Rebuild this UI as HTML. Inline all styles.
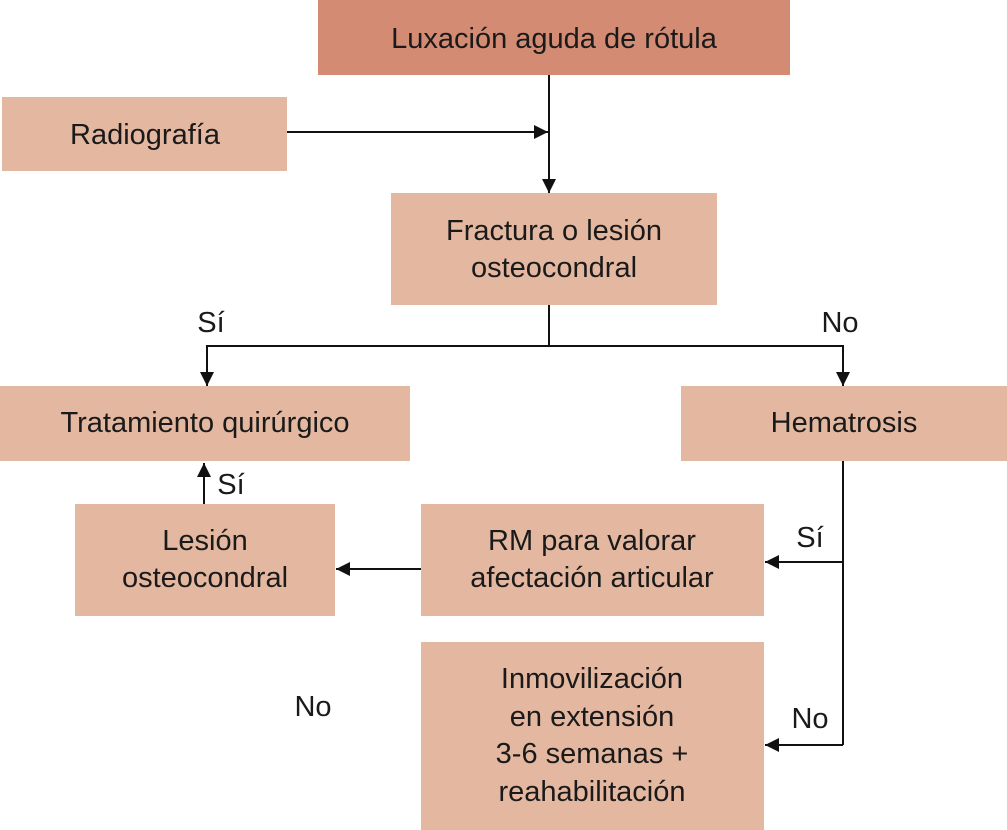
<!DOCTYPE html>
<html><head><meta charset="utf-8"><style>
html,body{margin:0;padding:0;background:#fff;}
svg{display:block;font-family:"Liberation Sans",Arial,sans-serif;}
text{font-size:29px;fill:#1a1a1a;text-anchor:middle;}
</style></head><body>
<svg width="1007" height="830" viewBox="0 0 1007 830" xmlns="http://www.w3.org/2000/svg">
<defs>
<marker id="a" viewBox="0 0 10 10" refX="10" refY="5" markerWidth="14" markerHeight="14" markerUnits="userSpaceOnUse" orient="auto">
<path d="M0,0 L10,5 L0,10 z" fill="#111"/></marker>
</defs>
<g fill="#e4b8a0">
<rect x="318" y="0" width="472" height="75" fill="#d38b74"/>
<rect x="2" y="97" width="285" height="74"/>
<rect x="391" y="193" width="326" height="112"/>
<rect x="0" y="386" width="410" height="75"/>
<rect x="681" y="386" width="326" height="75"/>
<rect x="75" y="504" width="260" height="112"/>
<rect x="421" y="504" width="343" height="112"/>
<rect x="421" y="642" width="343" height="188"/>
</g>
<g stroke="#111" stroke-width="2" fill="none">
<line x1="549" y1="75" x2="549" y2="193" marker-end="url(#a)"/>
<line x1="287" y1="132" x2="548" y2="132" marker-end="url(#a)"/>
<polyline points="549,305 549,346"/>
<polyline points="207,386 207,346 843,346 843,386"/>
<line x1="207" y1="346" x2="207" y2="386" marker-end="url(#a)"/>
<line x1="843" y1="346" x2="843" y2="386" marker-end="url(#a)"/>
<polyline points="843,461 843,745"/>
<line x1="843" y1="562" x2="765" y2="562" marker-end="url(#a)"/>
<line x1="843" y1="745" x2="765" y2="745" marker-end="url(#a)"/>
<line x1="421" y1="569" x2="336" y2="569" marker-end="url(#a)"/>
<line x1="204" y1="504" x2="204" y2="463" marker-end="url(#a)"/>
</g>
<text x="554" y="48">Luxación aguda de rótula</text>
<text x="145" y="144">Radiografía</text>
<text x="554" y="240">Fractura o lesión</text>
<text x="554" y="277">osteocondral</text>
<text x="205" y="432">Tratamiento quirúrgico</text>
<text x="844" y="432">Hematrosis</text>
<text x="205" y="550">Lesión</text>
<text x="205" y="587">osteocondral</text>
<text x="592" y="550">RM para valorar</text>
<text x="592" y="587">afectación articular</text>
<text x="592" y="688">Inmovilización</text>
<text x="592" y="726">en extensión</text>
<text x="592" y="763">3-6 semanas +</text>
<text x="592" y="801">reahabilitación</text>
<text x="211" y="332">Sí</text>
<text x="840" y="332">No</text>
<text x="231" y="494">Sí</text>
<text x="810" y="547">Sí</text>
<text x="313" y="716">No</text>
<text x="810" y="728">No</text>
</svg>
</body></html>
